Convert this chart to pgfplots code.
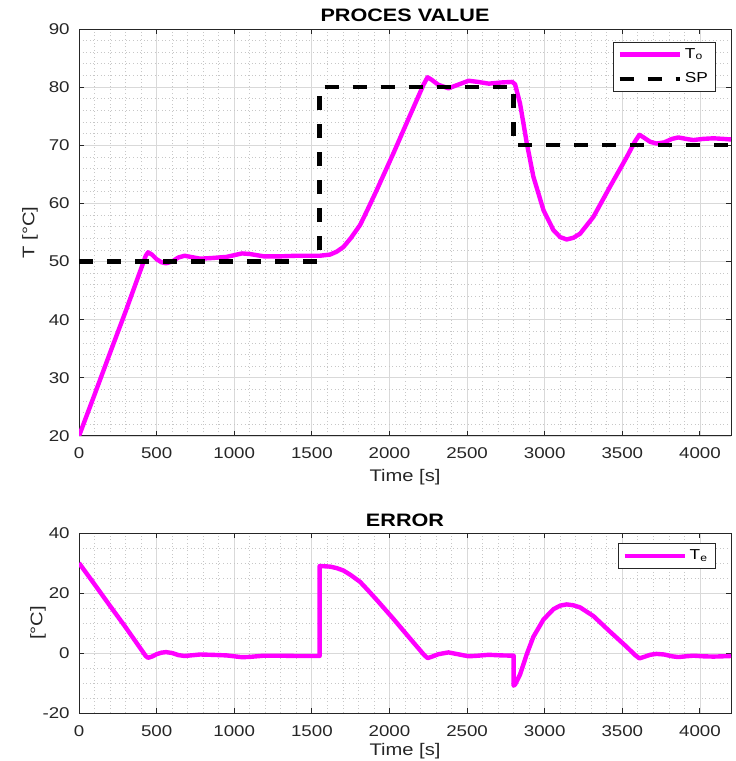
\documentclass[border=0pt]{standalone}
\usepackage{fontspec}
\setmainfont{Liberation Sans}[FakeStretch=1.2]
\usepackage{pgfplots}
\pgfplotsset{compat=1.18}
\definecolor{axgray}{gray}{0.15}
\definecolor{mag}{RGB}{255,0,255}
\pgfplotsset{
  every axis title shift=0pt,
  mlab/.style={
    scale only axis, width=326pt,
    xmin=0, xmax=4200, xtick={0,500,...,4000},
    minor x tick num=4,
    grid=both,
    major grid style={black!15, line width=0.4pt},
    minor grid style={black!22, line width=0.4pt, dash pattern=on 0.5pt off 1.3pt},
    major tick length=2.5pt, minor tick length=0pt,
    tick align=inside,
    axis line style={axgray, line width=0.5pt},
    tick style={axgray, line width=0.5pt},
    ticklabel style={font=\fontsize{7.8}{9}\selectfont, text=axgray},
    /pgf/number format/assume math mode=true,
    /pgf/number format/1000 sep={},
    xticklabel style={anchor=base, yshift=-11.5pt, inner sep=0pt},
    yticklabel style={anchor=east, inner sep=0pt, xshift=-4.5pt},
    title style={font=\bfseries\fontsize{9}{10}\selectfont, at={(axis description cs:0.5,1)}, anchor=base, inner sep=0pt},
    xlabel style={font=\fontsize{8.4}{10}\selectfont, text=axgray, at={(axis description cs:0.5,0)}, anchor=base, inner sep=0pt},
    ylabel style={font=\fontsize{8.4}{10}\selectfont, text=axgray, anchor=center, inner sep=0pt},
    legend style={at={(axis description cs:1,1)}, anchor=north east, draw=axgray, line width=0.4pt,
      font=\fontsize{7.2}{8}\selectfont, inner xsep=2pt, inner ysep=0.5pt,
      nodes={inner sep=1.5pt, text height=6pt, text depth=2.5pt}, row sep=0.8pt},
    legend cell align=left,
    legend image code/.code={\draw[#1] (0pt,0pt) -- (30pt,0pt);},
  }
}
\begin{document}
\begin{tikzpicture}
\path[use as bounding box] (0,0) rectangle (367.5pt,380.5pt);
% process value
\begin{axis}[mlab, at={(39.5pt,162.5pt)}, anchor=south west, height=203.5pt,
  ymin=20, ymax=90, ytick={20,30,...,90}, minor y tick num=4,
  title={PROCES VALUE}, title style={yshift=3.6pt},
  xlabel={Time [s]}, xlabel style={yshift=-22.8pt},
  ylabel={T [°C]}, ylabel style={at={(axis description cs:-0.075,0.5)}},
  legend style={xshift=-7.8pt, yshift=-6.3pt},
]
\addplot[mag, line width=2.2pt, line join=round] coordinates {
(0,20) (100,27.1) (200,34.3) (300,41.4) (430,51.0) (445,51.6) (470,51.2) (500,50.4)
(530,49.9) (560,49.7) (600,50.0) (640,50.7) (680,51.0) (720,50.8) (780,50.5) (850,50.6)
(950,50.8) (1000,51.1) (1050,51.4) (1100,51.3) (1190,50.9) (1300,50.9) (1400,51.0)
(1550,51.0) (1617,51.2) (1660,51.7) (1703,52.5) (1750,54.0) (1811,56.3) (1860,59.0)
(1918,62.3) (2025,68.6) (2133,75.2) (2219,80.4) (2245,81.7) (2270,81.3) (2315,80.4)
(2380,79.8) (2440,80.4) (2510,81.1) (2570,80.9) (2640,80.6) (2720,80.8) (2790,80.9)
(2809,80.5) (2841,77.2) (2885,70.3) (2927,64.6) (2992,58.85) (3056,55.4) (3100,54.2)
(3142,53.8) (3185,54.1) (3228,54.8) (3314,57.7) (3421,62.9) (3529,68.0) (3580,70.6)
(3610,71.8) (3640,71.3) (3679,70.6) (3720,70.3) (3770,70.5) (3820,71.1) (3861,71.35)
(3910,71.1) (3958,70.9) (4020,71.1) (4087,71.2) (4150,71.1) (4200,71.0)
};
\addlegendentry{T\textsubscript{o}}
\addplot[black, line width=2.2pt, dash pattern=on 7pt off 7pt] coordinates {
(0,50) (1550,50) (1550,80) (2800,80) (2800,70) (4200,70)
};
\addlegendentry{SP}
\end{axis}
% error
\begin{axis}[mlab, at={(39.5pt,24pt)}, anchor=south west, height=90pt,
  ymin=-20, ymax=40, ytick={-20,0,20,40}, minor y tick num=3,
  title={ERROR}, title style={yshift=3.1pt},
  xlabel={Time [s]}, xlabel style={yshift=-21pt},
  ylabel={[°C]}, ylabel style={at={(axis description cs:-0.063,0.5)}},
  legend style={xshift=-7.8pt, yshift=-4.9pt},
]
\addplot[mag, line width=2.2pt, line join=round] coordinates {
(0,30) (100,22.9) (200,15.7) (300,8.6) (430,-1.0) (445,-1.6) (470,-1.2) (500,-0.4)
(530,0.1) (560,0.3) (600,0.0) (640,-0.7) (680,-1.0) (720,-0.8) (780,-0.5) (850,-0.6)
(950,-0.8) (1000,-1.1) (1050,-1.4) (1100,-1.3) (1190,-0.9) (1300,-0.9) (1400,-1.0)
(1550,-1.0) (1550,29.0) (1617,28.8) (1660,28.3) (1703,27.5) (1750,26.0) (1811,23.7)
(1860,21.0) (1918,17.7) (2025,11.4) (2133,4.8) (2219,-0.4) (2245,-1.7) (2270,-1.3)
(2315,-0.4) (2380,0.2) (2440,-0.4) (2510,-1.1) (2570,-0.9) (2640,-0.6) (2720,-0.8)
(2800,-0.9) (2800,-10.9) (2809,-10.5) (2841,-7.2) (2885,-0.3) (2927,5.4) (2992,11.15)
(3056,14.6) (3100,15.8) (3142,16.2) (3185,15.9) (3228,15.2) (3314,12.3) (3421,7.1)
(3529,2.0) (3580,-0.6) (3610,-1.8) (3640,-1.3) (3679,-0.6) (3720,-0.3) (3770,-0.5)
(3820,-1.1) (3861,-1.35) (3910,-1.1) (3958,-0.9) (4020,-1.1) (4087,-1.2) (4150,-1.1)
(4200,-1.0)
};
\addlegendentry{T\textsubscript{e}}
\end{axis}
\end{tikzpicture}
\end{document}
